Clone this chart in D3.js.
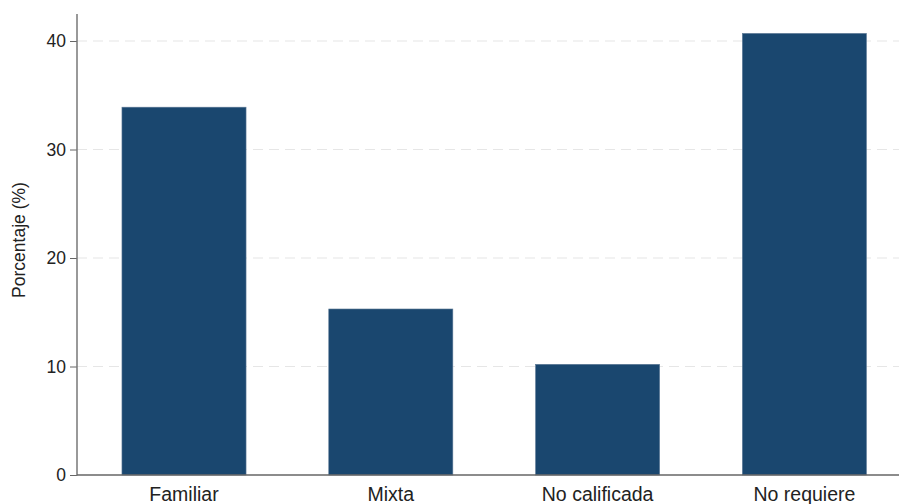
<!DOCTYPE html>
<html><head><meta charset="utf-8">
<script src="https://cdn.jsdelivr.net/npm/d3@7"></script>
<style>body{margin:0;background:#fff}svg{display:block}</style>
</head><body><svg id="c" width="899" height="504"></svg>
<script>
const categories = ["Familiar", "Mixta", "No calificada", "No requiere"];
const values = [33.9, 15.3, 10.2, 40.7];
const yTicks = [0, 10, 20, 30, 40];

const svg = d3.select("#c");
const x0 = 77, yBase = 475;
const y = d3.scaleLinear().domain([0, 40]).range([yBase, 41]);
const x = d3.scaleBand().domain(categories).range([80.6, 907.8]).paddingInner(0.4).paddingOuter(0.2);

// gridlines
svg.append("g").selectAll("line").data(yTicks.filter(d => d > 0)).join("line")
  .attr("x1", x0).attr("x2", 899).attr("y1", d => y(d)).attr("y2", d => y(d))
  .attr("stroke", "#e6e6e6").attr("stroke-width", 1.2).attr("stroke-dasharray", "10,6");

// bars
svg.append("g").selectAll("rect").data(values).join("rect")
  .attr("x", (d, i) => x(categories[i])).attr("width", x.bandwidth())
  .attr("y", d => y(d)).attr("height", d => yBase - y(d))
  .attr("fill", "#1a476f").attr("stroke", "#5d7a96").attr("stroke-width", 0.6);

// y axis
const ya = svg.append("g").attr("transform", `translate(${x0},0)`)
  .call(d3.axisLeft(y).tickValues(yTicks).tickSize(7).tickPadding(4));
ya.select(".domain").remove();
ya.selectAll(".tick line").attr("stroke", "#666");
ya.selectAll(".tick text").attr("font-family", "Arial, 'Liberation Sans', sans-serif").attr("font-size", 17.5).attr("fill", "#222");
svg.append("line").attr("x1", x0).attr("x2", x0).attr("y1", 14).attr("y2", yBase + 0.5).attr("stroke", "#777").attr("stroke-width", 1.5);

// x axis
svg.append("line").attr("x1", x0).attr("x2", 899).attr("y1", yBase).attr("y2", yBase).attr("stroke", "#666").attr("stroke-width", 1.5);
const xa = svg.append("g").attr("transform", `translate(0,${yBase})`)
  .call(d3.axisBottom(x).tickSize(0).tickPadding(12));
xa.select(".domain").remove();
xa.selectAll(".tick text").attr("font-family", "Arial, 'Liberation Sans', sans-serif").attr("font-size", 19.5).attr("fill", "#222");

// y title
svg.append("text").attr("transform", "translate(25,240) rotate(-90)").attr("text-anchor", "middle")
  .attr("font-family", "Arial, 'Liberation Sans', sans-serif").attr("font-size", 17.5).attr("fill", "#222")
  .text("Porcentaje (%)");
</script></body></html>
